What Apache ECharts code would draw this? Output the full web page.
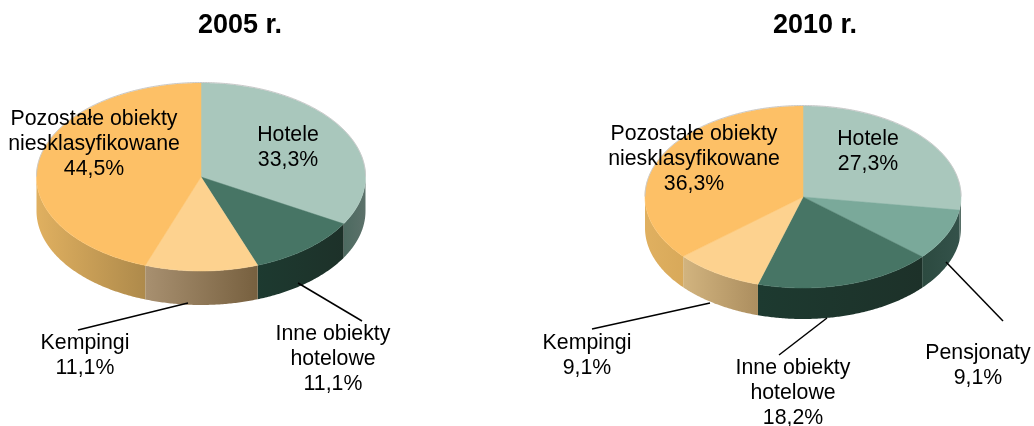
<!DOCTYPE html>
<html>
<head>
<meta charset="utf-8">
<style>html,body{margin:0;padding:0;background:#fff}#c{width:1034px;height:426px}</style>
<script src="https://cdn.jsdelivr.net/npm/echarts@6/dist/echarts.min.js"></script>
</head>
<body>
<div id="c"></div>
<script>
var titles = ['2005 r.', '2010 r.'];
var categories2005 = ['Hotele', 'Inne obiekty\nhotelowe', 'Kempingi', 'Pozostałe obiekty\nniesklasyfikowane'];
var values2005 = [33.3, 11.1, 11.1, 44.5];
var categories2010 = ['Hotele', 'Pensjonaty', 'Inne obiekty\nhotelowe', 'Kempingi', 'Pozostałe obiekty\nniesklasyfikowane'];
var values2010 = [27.3, 9.1, 18.2, 9.1, 36.3];

var styles = {
  'Hotele': {top: '#a9c7bc', wall: ['#4c6a60', '#5c716a']},
  'Pensjonaty': {top: '#7aa99a', wall: ['#2c4a40', '#34524a']},
  'Inne obiekty\nhotelowe': {top: '#477565', wall: ['#1d3a30', '#1d3129']},
  'Kempingi': {top: '#fdd28f', wall: ['#a89070', '#77603f']},
  'Pozostałe obiekty\nniesklasyfikowane': {top: '#fdc066', wall: ['#e0b060', '#ae8a4b']}
};
var styles2010 = {
  'Kempingi': {top: '#fdd28f', wall: ['#d2b47f', '#ac8e5f']},
  'Pozostałe obiekty\nniesklasyfikowane': {top: '#fdc066', wall: ['#e0b060', '#d8a95a']}
};

var layout2005 = {
  cx: 201, cy: 177, rx: 164.5, ry: 94, depth: 34,
  labels: {
    'Hotele': {x: 288, y: 135},
    'Inne obiekty\nhotelowe': {x: 333, y: 334.5, line: [[298, 283], [362, 321]]},
    'Kempingi': {x: 85, y: 343.5, line: [[188, 303], [78, 330]]},
    'Pozostałe obiekty\nniesklasyfikowane': {x: 94, y: 119.5}
  }
};
var layout2010 = {
  cx: 803, cy: 197, rx: 158, ry: 91, depth: 31,
  labels: {
    'Hotele': {x: 868, y: 139},
    'Pensjonaty': {x: 978, y: 353.5, line: [[946, 262], [1003, 321]]},
    'Inne obiekty\nhotelowe': {x: 793, y: 368.5, line: [[827, 318], [779, 355]]},
    'Kempingi': {x: 587, y: 343.5, line: [[710, 303], [592, 329]]},
    'Pozostałe obiekty\nniesklasyfikowane': {x: 694, y: 134.5}
  }
};

function pct(v) { return v.toFixed(1).replace('.', ',') + '%'; }

function makeSeries(cats, vals, lay, over) {
  var total = vals.reduce(function (a, b) { return a + b; }, 0);
  var FONT = 21.3, LH = 25;
  function pt(a, dy) {
    return [lay.cx + lay.rx * Math.sin(a), lay.cy - lay.ry * Math.cos(a) + (dy || 0)];
  }
  function arc(a0, a1, dy) {
    var pts = [], n = Math.max(2, Math.ceil(Math.abs(a1 - a0) / 0.01));
    for (var i = 0; i <= n; i++) pts.push(pt(a0 + (a1 - a0) * i / n, dy));
    return pts;
  }
  return {
    type: 'custom',
    coordinateSystem: 'none',
    silent: true,
    animation: false,
    data: vals.map(function (v, i) { return {name: cats[i], value: v}; }),
    renderItem: function (params, api) {
      var i = params.dataIndex, before = 0;
      for (var k = 0; k < i; k++) before += vals[k];
      var a0 = before / total * 2 * Math.PI, a1 = (before + vals[i]) / total * 2 * Math.PI;
      var name = cats[i], st = (over && over[name]) || styles[name], lab = lay.labels[name];
      var kids = [];
      var w0 = Math.max(a0, Math.PI / 2), w1 = Math.min(a1, Math.PI * 1.5);
      if (w1 > w0) {
        var upper = arc(w0, w1, 0), lower = arc(w1, w0, lay.depth);
        var xs = upper.map(function (p) { return p[0]; });
        var minX = Math.min.apply(null, xs), maxX = Math.max.apply(null, xs);
        kids.push({
          type: 'polygon', shape: {points: upper.concat(lower)},
          style: {
            fill: new echarts.graphic.LinearGradient(minX, 0, maxX, 0, [
              {offset: 0, color: st.wall[0]}, {offset: 1, color: st.wall[1]}
            ], true)
          }
        });
      }
      kids.push({
        type: 'polygon',
        shape: {points: [[lay.cx, lay.cy]].concat(arc(a0, a1, 0))},
        style: {fill: st.top, stroke: st.top, lineWidth: 0.5}
      });
      var r0 = Math.max(a0, 1.5 * Math.PI), r1 = Math.min(a1, 2 * Math.PI);
      var q0 = a0, q1 = Math.min(a1, Math.PI / 2);
      if (q1 > q0) kids.push({type: 'polyline', shape: {points: arc(q0, q1, -0.5)}, style: {fill: null, stroke: '#c8c8c8', lineWidth: 1}});
      if (r1 > r0) kids.push({type: 'polyline', shape: {points: arc(r0, r1, -0.5)}, style: {fill: null, stroke: '#c8c8c8', lineWidth: 1}});
      if (lab.line) {
        kids.push({
          type: 'line', z2: 50,
          shape: {x1: lab.line[0][0], y1: lab.line[0][1], x2: lab.line[1][0], y2: lab.line[1][1]},
          style: {stroke: '#000', lineWidth: 1.5}
        });
      }
      kids.push({
        type: 'text', z2: 100, x: lab.x, y: lab.y - LH / 2,
        style: {
          text: name + '\n' + pct(vals[i]),
          fill: '#000', align: 'center', verticalAlign: 'top',
          fontFamily: '"Liberation Sans", Arial, sans-serif',
          fontSize: FONT, lineHeight: LH
        }
      });
      return {type: 'group', children: kids};
    }
  };
}

var chart = echarts.init(document.getElementById('c'), null, {renderer: 'canvas'});
var titleFont = {fontFamily: '"Liberation Sans", Arial, sans-serif', fontWeight: 'bold', fontSize: 27, color: '#000'};
chart.setOption({
  backgroundColor: '#fff',
  animation: false,
  title: [
    {text: titles[0], left: 235, top: 7, textAlign: 'center', textStyle: titleFont},
    {text: titles[1], left: 810, top: 7, textAlign: 'center', textStyle: titleFont}
  ],
  series: [
    makeSeries(categories2005, values2005, layout2005),
    makeSeries(categories2010, values2010, layout2010, styles2010)
  ]
});
</script>
</body>
</html>
